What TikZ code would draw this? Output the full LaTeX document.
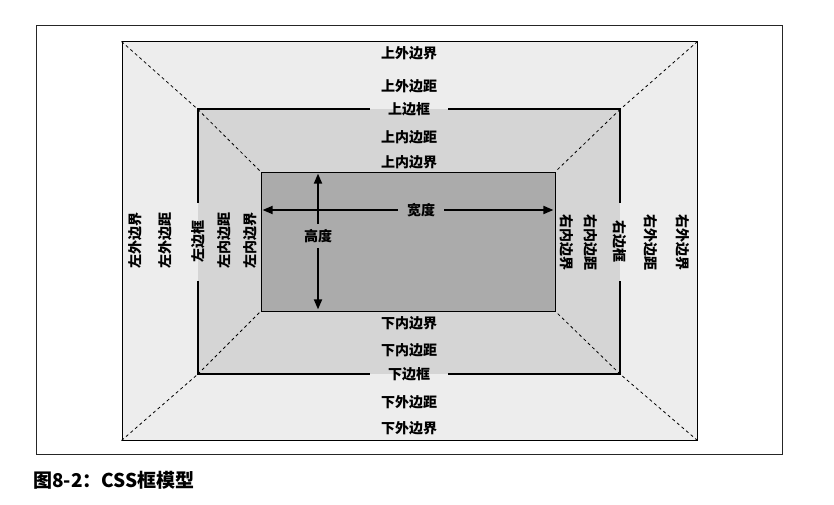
\documentclass[tikz,border=0pt]{standalone}
\usepackage{fontspec}
\newfontfamily\cjk{Noto Sans CJK SC}
\usetikzlibrary{arrows.meta}
\definecolor{marginfill}{HTML}{EDEDED}
\definecolor{paddingfill}{HTML}{D5D5D5}
\definecolor{contentfill}{HTML}{ABABAB}
\tikzset{
  boxlabel/.style={font=\cjk\bfseries\fontsize{14}{14}\selectfont, inner sep=0pt},
  borderlabel/.style={boxlabel, inner xsep=18pt},
  borderline/.style={line width=2.2pt},
  diagline/.style={line width=0.8pt, dash pattern=on 3pt off 3pt},
  dimarrow/.style={-{Triangle[length=10pt,width=8pt]}, line width=1.8pt, shorten >=2pt}
}

\begin{document}
\begin{tikzpicture}[x=1pt,y=-1pt]
\useasboundingbox (0,0) rectangle (834,505);
% Outer frame and the three boxes
\node[draw=black!85, line width=1pt, minimum width=746pt, minimum height=428pt, inner sep=0pt] (frame) at (409,240) {};
\node[draw, fill=marginfill, line width=1pt, minimum width=575pt, minimum height=398pt, inner sep=0pt] (margin) at (409.5,241) {};
\node[fill=paddingfill, minimum width=422pt, minimum height=264.5pt, inner sep=0pt] (border) at (409,241.75) {};
% Dashed diagonals
\draw[diagline] (margin.north west) -- (border.north west);
\draw[diagline] (margin.north east) -- (border.north east);
\draw[diagline] (margin.south west) -- (border.south west);
\draw[diagline] (margin.south east) -- (border.south east);
\node[draw, fill=contentfill, line width=0.8pt, minimum width=294pt, minimum height=139pt, inner sep=0pt] (content) at (408,241.5) {};
\draw[diagline] (border.north west) -- (content.north west);
\draw[diagline] (border.north east) -- (content.north east);
\draw[diagline] (border.south west) -- (content.south west);
\draw[diagline] (border.south east) -- (content.south east);

% Top labels
\node[boxlabel] (topmargin) at (409,53) {上外边界};
\node[boxlabel] (topmarginsp) at (409,86) {上外边距};
\node[borderlabel] (topborder) at (border.north) {上边框};
\node[boxlabel] (toppadding) at (409,137) {上内边距};
\node[boxlabel] (topcontent) at (409,162) {上内边界};
% Bottom labels
\node[boxlabel] (bottomcontent) at (409,323) {下内边界};
\node[boxlabel] (bottompadding) at (409,350) {下内边距};
\node[borderlabel] (bottomborder) at (border.south) {下边框};
\node[boxlabel] (bottommarginsp) at (409,402) {下外边距};
\node[boxlabel] (bottommargin) at (409,428) {下外边界};
% Left labels
\node[boxlabel, rotate=90] (leftmargin) at (135,240) {左外边界};
\node[boxlabel, rotate=90] (leftmarginsp) at (165,240) {左外边距};
\node[borderlabel, rotate=90] (leftborder) at (border.west) {左边框};
\node[boxlabel, rotate=90] (leftpadding) at (224,240) {左内边距};
\node[boxlabel, rotate=90] (leftcontent) at (250,240) {左内边界};
% Right labels
\node[boxlabel, rotate=-90] (rightcontent) at (567,242) {右内边界};
\node[boxlabel, rotate=-90] (rightpadding) at (591,242) {右内边距};
\node[borderlabel, rotate=-90] (rightborder) at (border.east) {右边框};
\node[boxlabel, rotate=-90] (rightmarginsp) at (651,242) {右外边距};
\node[boxlabel, rotate=-90] (rightmargin) at (683,242) {右外边界};

% Thick border, broken at its labels
\draw[borderline] (topborder.west) -- (topborder.west -| border.west) -- (leftborder.east);
\draw[borderline] (topborder.east) -- (topborder.east -| border.east) -- (rightborder.west);
\draw[borderline] (leftborder.west) -- (bottomborder.west -| border.west) -- (bottomborder.west);
\draw[borderline] (rightborder.east) -- (bottomborder.east -| border.east) -- (bottomborder.east);

% Width and height
\node[boxlabel, inner xsep=9pt] (width) at (421,210) {宽度};
\draw[dimarrow] (width.west) -- (width.west -| content.west);
\draw[dimarrow] (width.east) -- (width.east -| content.east);
\node[boxlabel, inner ysep=5pt] (height) at (318,236) {高度};
\draw[dimarrow] (height.north) -- (height.north |- content.north);
\draw[dimarrow] (height.south) -- (height.south |- content.south);

% Caption
\node[anchor=west, inner sep=0pt, font=\cjk\bfseries\fontsize{19}{19}\selectfont] (caption) at (33,480) {图8-2：CSS框模型};
\end{tikzpicture}
\end{document}
